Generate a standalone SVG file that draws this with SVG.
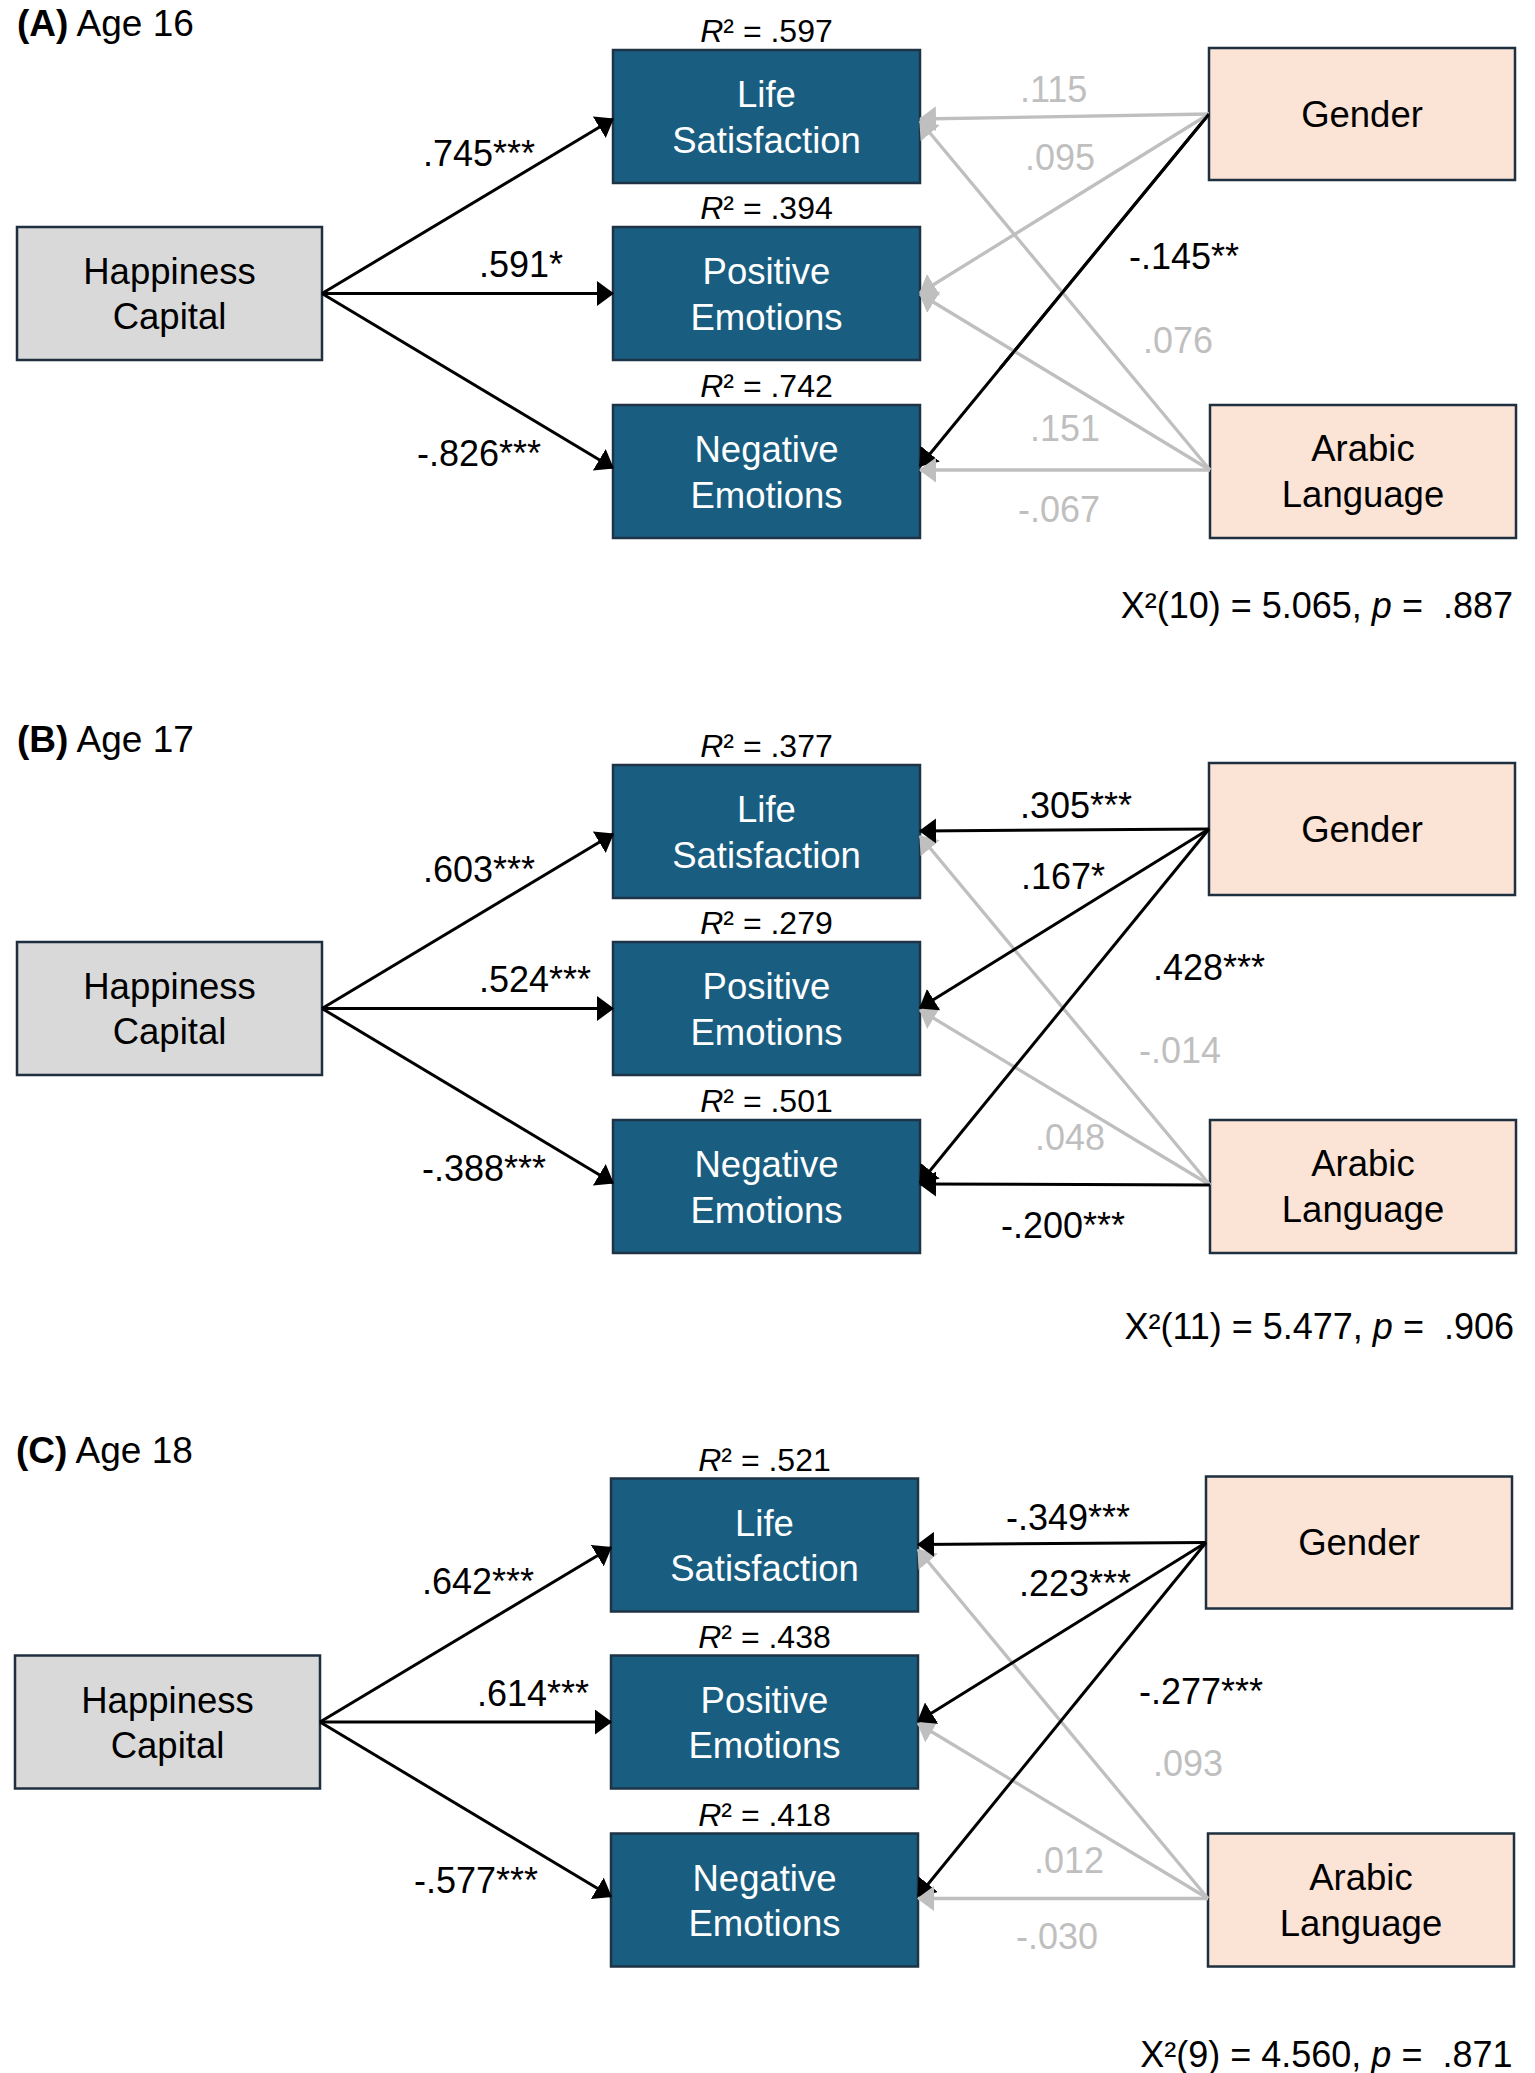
<svg xmlns="http://www.w3.org/2000/svg" width="1535" height="2073" viewBox="0 0 1535 2073">
<style>
text{font-family:"Liberation Sans",Arial,sans-serif;fill:#000}
.title{font-size:37px}
.nt{font-size:36.5px;text-anchor:middle}
.wt{fill:#fff}
.r2{font-size:32px;text-anchor:middle}
.lab{font-size:36px}
.gl{fill:#BFBFBF}
.fit{font-size:36px;text-anchor:end}
.hc{fill:#D9D9D9;stroke:#1F2F3F;stroke-width:2.5}
.out{fill:#195E81;stroke:#1E3446;stroke-width:2.5}
.cov{fill:#FBE3D6;stroke:#1E2F3F;stroke-width:2.5}
.cb{stroke:#000;stroke-width:3;fill:none;marker-end:url(#ab)}
.cg{stroke:#BFBFBF;stroke-width:3.3;fill:none;marker-end:url(#ag)}
</style>
<defs>
<marker id="ab" markerUnits="userSpaceOnUse" viewBox="0 0 17 25" refX="16" refY="12.5" markerWidth="17" markerHeight="25" orient="auto"><path d="M0,0 L17,12.5 L0,25 z" fill="#000"/></marker>
<marker id="ag" markerUnits="userSpaceOnUse" viewBox="0 0 17 25" refX="16" refY="12.5" markerWidth="17" markerHeight="25" orient="auto"><path d="M0,0 L17,12.5 L0,25 z" fill="#BFBFBF"/></marker>
</defs>
<rect width="1535" height="2073" fill="#fff"/>

<!-- Panel A -->
<g id="panelA">
<text class="title" x="17" y="36"><tspan font-weight="bold">(A)</tspan> Age 16</text>
<g id="A-hc"><rect class="hc" x="17" y="227" width="305" height="133"/><text class="nt" x="169.5" y="284">Happiness</text><text class="nt" x="169.5" y="329">Capital</text></g>
<g id="A-ls"><rect class="out" x="613" y="50" width="307" height="133"/><text class="nt wt" x="766.5" y="107">Life</text><text class="nt wt" x="766.5" y="152.5">Satisfaction</text><text class="r2" x="766.5" y="42"><tspan font-style="italic">R</tspan>² = .597</text></g>
<g id="A-pe"><rect class="out" x="613" y="227" width="307" height="133"/><text class="nt wt" x="766.5" y="284">Positive</text><text class="nt wt" x="766.5" y="329.5">Emotions</text><text class="r2" x="766.5" y="219"><tspan font-style="italic">R</tspan>² = .394</text></g>
<g id="A-ne"><rect class="out" x="613" y="405" width="307" height="133"/><text class="nt wt" x="766.5" y="462">Negative</text><text class="nt wt" x="766.5" y="507.5">Emotions</text><text class="r2" x="766.5" y="397"><tspan font-style="italic">R</tspan>² = .742</text></g>
<g id="A-gender"><rect class="cov" x="1209" y="48" width="306" height="132"/><text class="nt" x="1362" y="126.5">Gender</text></g>
<g id="A-arabic"><rect class="cov" x="1210" y="405" width="306" height="133"/><text class="nt" x="1363" y="461">Arabic</text><text class="nt" x="1363" y="507">Language</text></g>
<g id="A-connectors">
<path class="cb" d="M322,293.5 L613,119"/>
<path class="cb" d="M322,293.5 L613,293.5"/>
<path class="cb" d="M322,293.5 L613,468"/>
<path class="cb" d="M1209,114 L920,466"/>
<path class="cg" d="M1209,114 L920,119"/>
<path class="cg" d="M1209,114 L920,293"/>
<path class="cg" d="M1210,470 L920,121"/>
<path class="cg" d="M1210,470 L920,294"/>
<path class="cg" d="M1210,470 L920,470"/>
<path d="M1209,114 L1000,368.5" stroke="#000" stroke-width="3" fill="none"/>
</g>
<g id="A-labels">
<text class="lab" x="423" y="166">.745***</text>
<text class="lab" x="479" y="277">.591*</text>
<text class="lab" x="417" y="466">-.826***</text>
<text class="lab gl" x="1020" y="102">.115</text>
<text class="lab gl" x="1025" y="170">.095</text>
<text class="lab" x="1129" y="269">-.145**</text>
<text class="lab gl" x="1143" y="353">.076</text>
<text class="lab gl" x="1030" y="441">.151</text>
<text class="lab gl" x="1018" y="522">-.067</text>
</g>
<text class="fit" x="1513" y="618">X²(10) = 5.065, <tspan font-style="italic">p</tspan> =&#160; .887</text>
</g>

<!-- Panel B -->
<g id="panelB" transform="translate(0,715)">
<text class="title" x="17" y="36.5"><tspan font-weight="bold">(B)</tspan> Age 17</text>
<g id="B-hc"><rect class="hc" x="17" y="227" width="305" height="133"/><text class="nt" x="169.5" y="284">Happiness</text><text class="nt" x="169.5" y="329">Capital</text></g>
<g id="B-ls"><rect class="out" x="613" y="50" width="307" height="133"/><text class="nt wt" x="766.5" y="107">Life</text><text class="nt wt" x="766.5" y="152.5">Satisfaction</text><text class="r2" x="766.5" y="42"><tspan font-style="italic">R</tspan>² = .377</text></g>
<g id="B-pe"><rect class="out" x="613" y="227" width="307" height="133"/><text class="nt wt" x="766.5" y="284">Positive</text><text class="nt wt" x="766.5" y="329.5">Emotions</text><text class="r2" x="766.5" y="219"><tspan font-style="italic">R</tspan>² = .279</text></g>
<g id="B-ne"><rect class="out" x="613" y="405" width="307" height="133"/><text class="nt wt" x="766.5" y="462">Negative</text><text class="nt wt" x="766.5" y="507.5">Emotions</text><text class="r2" x="766.5" y="397"><tspan font-style="italic">R</tspan>² = .501</text></g>
<g id="B-gender"><rect class="cov" x="1209" y="48" width="306" height="132"/><text class="nt" x="1362" y="126.5">Gender</text></g>
<g id="B-arabic"><rect class="cov" x="1210" y="405" width="306" height="133"/><text class="nt" x="1363" y="461">Arabic</text><text class="nt" x="1363" y="507">Language</text></g>
<g id="B-connectors">
<path class="cb" d="M322,293.5 L613,119"/>
<path class="cb" d="M322,293.5 L613,293.5"/>
<path class="cb" d="M322,293.5 L613,468"/>
<path class="cg" d="M1210,470 L920,121"/>
<path class="cg" d="M1210,470 L920,295"/>
<path class="cb" d="M1209,114 L920,116"/>
<path class="cb" d="M1209,114 L920,293"/>
<path class="cb" d="M1209,114 L920,468"/>
<path class="cb" d="M1210,470 L920,469"/>
</g>
<g id="B-labels">
<text class="lab" x="423" y="167">.603***</text>
<text class="lab" x="479" y="277">.524***</text>
<text class="lab" x="422" y="466">-.388***</text>
<text class="lab" x="1020" y="103">.305***</text>
<text class="lab" x="1021" y="174">.167*</text>
<text class="lab" x="1153" y="265">.428***</text>
<text class="lab gl" x="1139" y="347.5">-.014</text>
<text class="lab gl" x="1035" y="434.5">.048</text>
<text class="lab" x="1001" y="523">-.200***</text>
</g>
<text class="fit" x="1514" y="623.5">X²(11) = 5.477, <tspan font-style="italic">p</tspan> =&#160; .906</text>
</g>

<!-- Panel C -->
<g id="panelC" transform="translate(-2,1428.5)">
<text class="title" x="18" y="34"><tspan font-weight="bold">(C)</tspan> Age 18</text>
<g id="C-hc"><rect class="hc" x="17" y="227" width="305" height="133"/><text class="nt" x="169.5" y="284">Happiness</text><text class="nt" x="169.5" y="329">Capital</text></g>
<g id="C-ls"><rect class="out" x="613" y="50" width="307" height="133"/><text class="nt wt" x="766.5" y="107">Life</text><text class="nt wt" x="766.5" y="152.5">Satisfaction</text><text class="r2" x="766.5" y="42"><tspan font-style="italic">R</tspan>² = .521</text></g>
<g id="C-pe"><rect class="out" x="613" y="227" width="307" height="133"/><text class="nt wt" x="766.5" y="284">Positive</text><text class="nt wt" x="766.5" y="329.5">Emotions</text><text class="r2" x="766.5" y="219"><tspan font-style="italic">R</tspan>² = .438</text></g>
<g id="C-ne"><rect class="out" x="613" y="405" width="307" height="133"/><text class="nt wt" x="766.5" y="462">Negative</text><text class="nt wt" x="766.5" y="507.5">Emotions</text><text class="r2" x="766.5" y="397"><tspan font-style="italic">R</tspan>² = .418</text></g>
<g id="C-gender"><rect class="cov" x="1208" y="48" width="306" height="132"/><text class="nt" x="1361" y="126.5">Gender</text></g>
<g id="C-arabic"><rect class="cov" x="1210" y="405" width="306" height="133"/><text class="nt" x="1363" y="461">Arabic</text><text class="nt" x="1363" y="507">Language</text></g>
<g id="C-connectors">
<path class="cb" d="M322,293.5 L613,119"/>
<path class="cb" d="M322,293.5 L613,293.5"/>
<path class="cb" d="M322,293.5 L613,468"/>
<path class="cg" d="M1210,470 L920,121"/>
<path class="cg" d="M1210,470 L920,295"/>
<path class="cb" d="M1208,114 L920,116"/>
<path class="cb" d="M1208,114 L920,293"/>
<path class="cb" d="M1208,114 L920,468"/>
<path class="cg" d="M1210,470 L920,470"/>
</g>
<g id="C-labels">
<text class="lab" x="424" y="165">.642***</text>
<text class="lab" x="479" y="277">.614***</text>
<text class="lab" x="416" y="464">-.577***</text>
<text class="lab" x="1008" y="101.5">-.349***</text>
<text class="lab" x="1021" y="167">.223***</text>
<text class="lab" x="1141" y="275">-.277***</text>
<text class="lab gl" x="1155" y="347">.093</text>
<text class="lab gl" x="1036" y="444">.012</text>
<text class="lab gl" x="1018" y="520.5">-.030</text>
</g>
<text class="fit" x="1514.5" y="638.3">X²(9) = 4.560, <tspan font-style="italic">p</tspan> =&#160; .871</text>
</g>
</svg>
